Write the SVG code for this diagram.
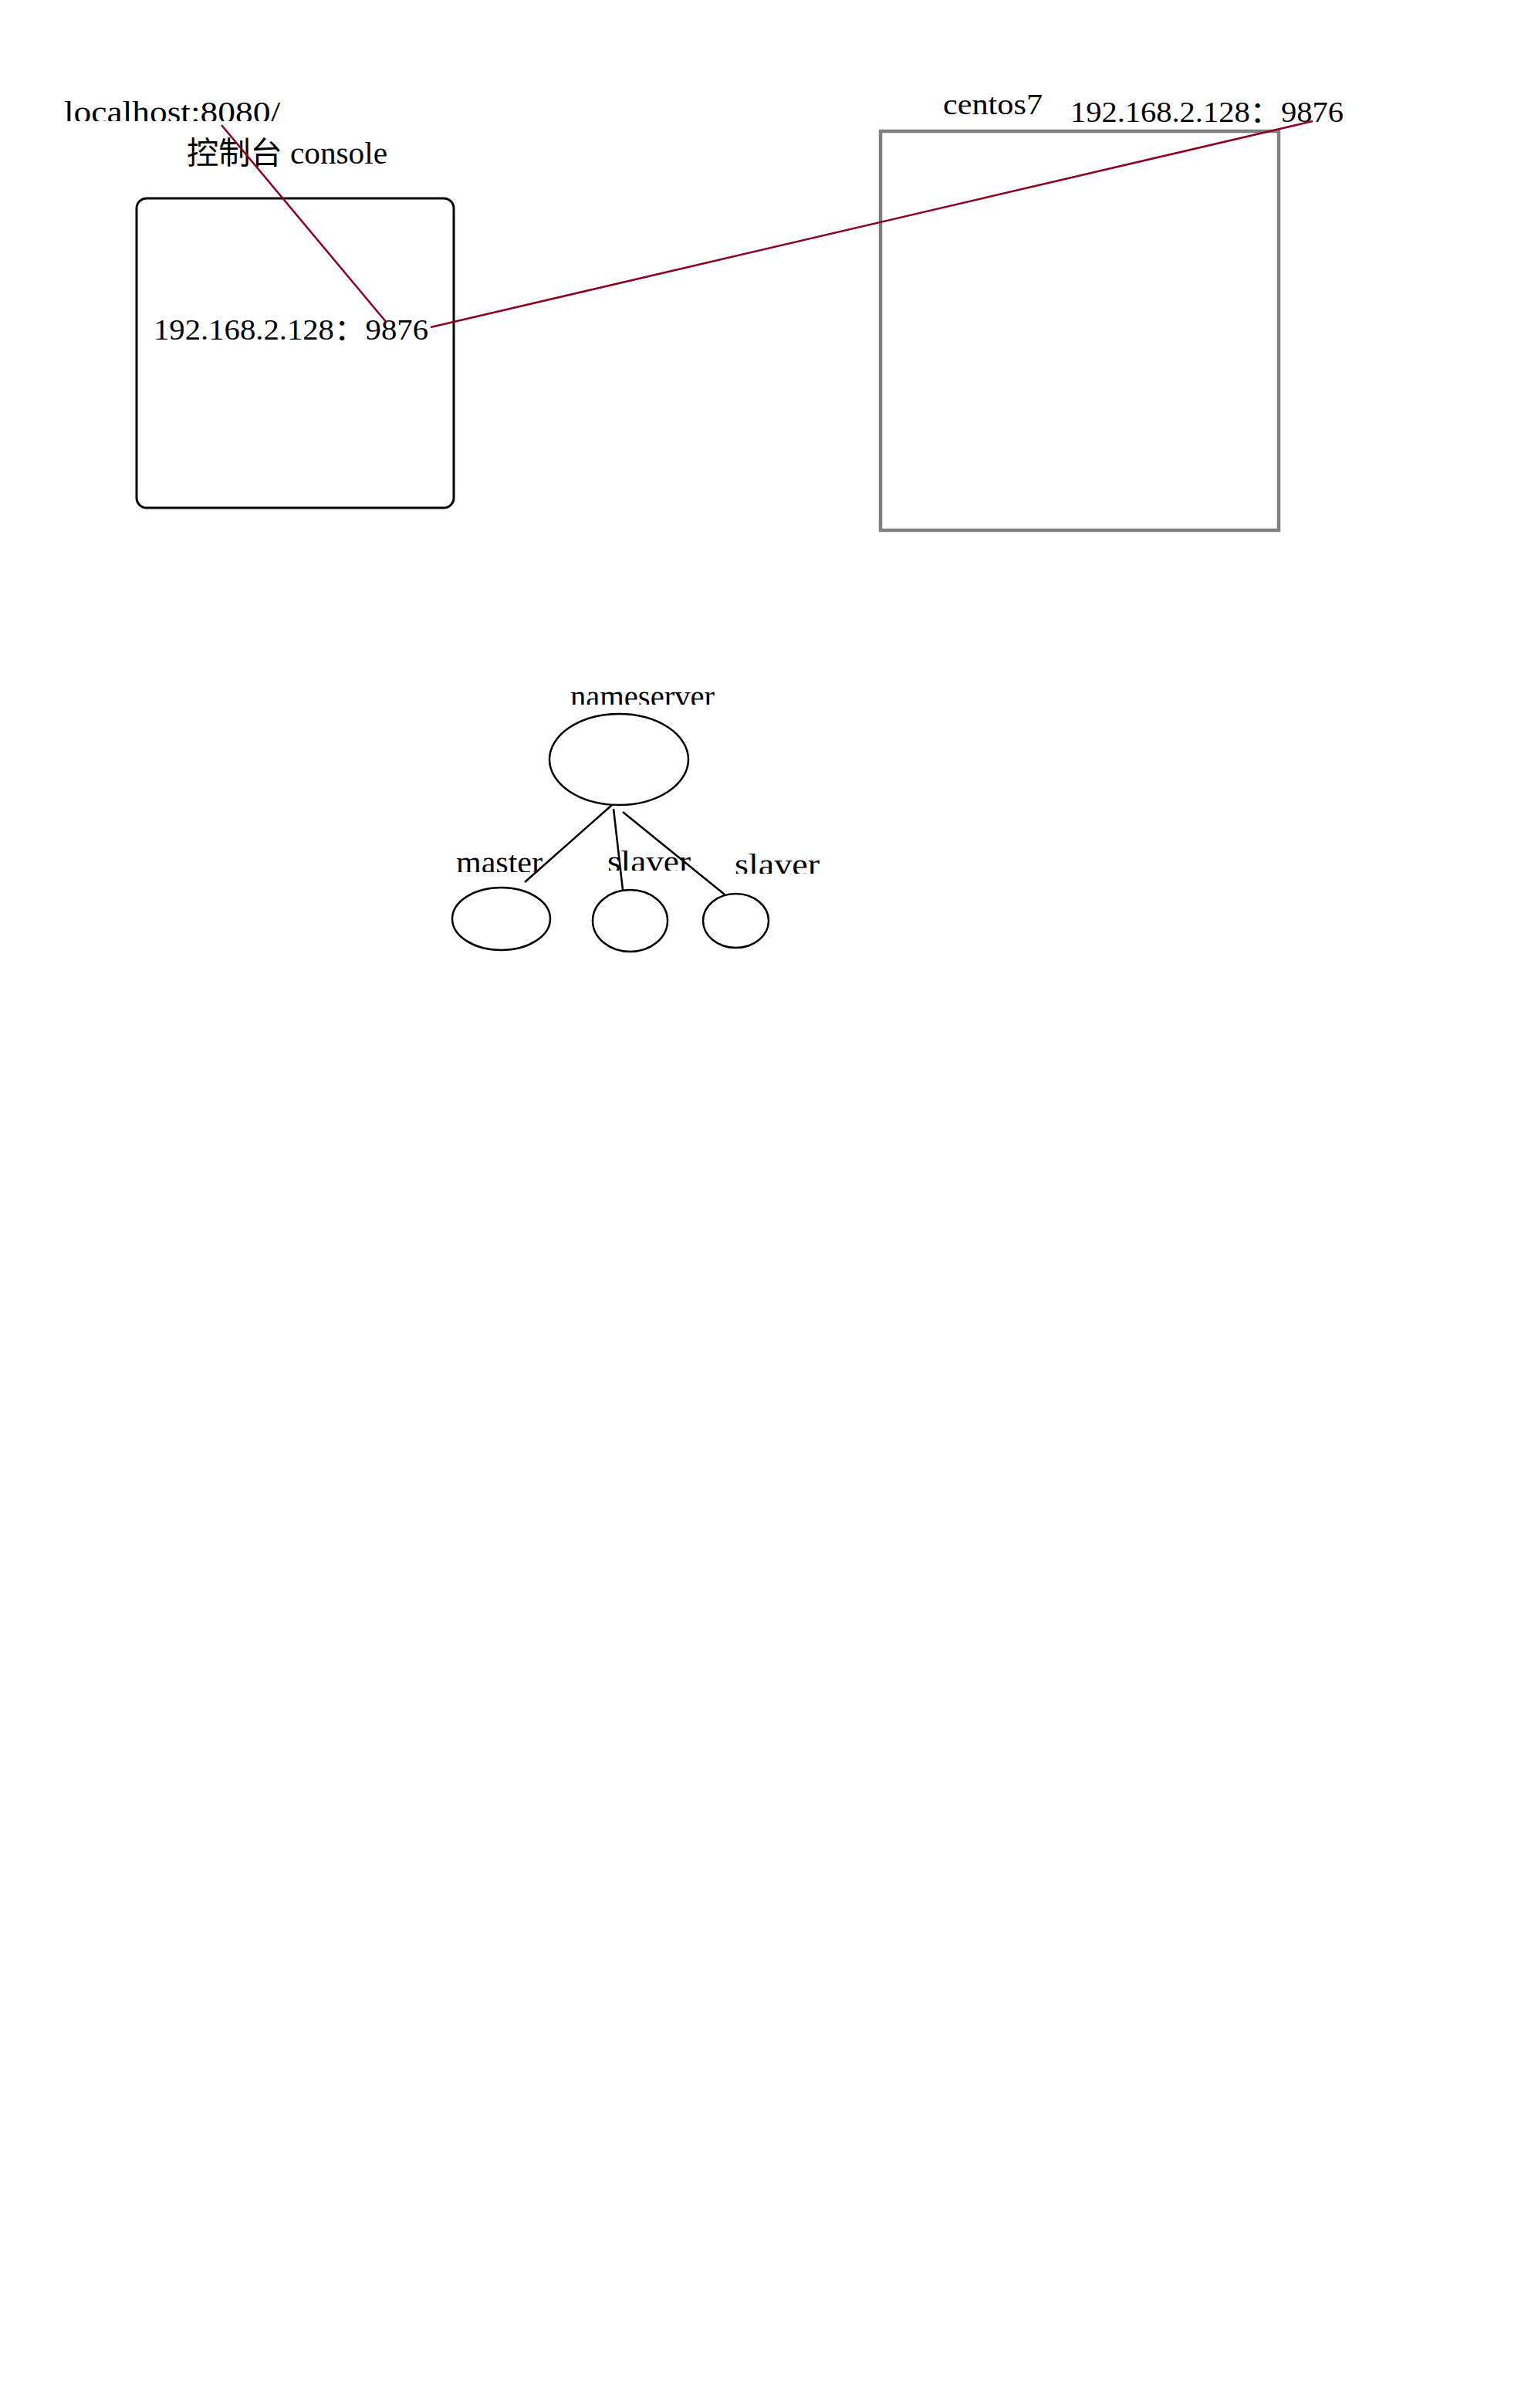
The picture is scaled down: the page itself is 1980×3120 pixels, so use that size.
<svg xmlns="http://www.w3.org/2000/svg" width="1980" height="3120" viewBox="0 0 1980 3120">
<style>
  .t { font-family: "Liberation Serif", "Noto Sans CJK SC", serif; fill: #000; }
  .box { fill: none; stroke: #000; stroke-width: 3; }
  .vm { fill: none; stroke: #808080; stroke-width: 4.5; }
  .ell { fill: none; stroke: #000; stroke-width: 2.5; }
  .red { stroke: #8B0020; stroke-width: 2.5; fill: none; }
  .blk { stroke: #000; stroke-width: 2.5; fill: none; }
</style>
<defs>
  <clipPath id="c-local"><rect x="60" y="100" width="340" height="57"/></clipPath>
  <clipPath id="c-ns"><rect x="700" y="860" width="260" height="53"/></clipPath>
  <clipPath id="c-master"><rect x="570" y="1080" width="150" height="50"/></clipPath>
  <clipPath id="c-slaver1"><rect x="770" y="1080" width="140" height="48"/></clipPath>
  <clipPath id="c-slaver2"><rect x="930" y="1080" width="150" height="52"/></clipPath>
</defs>
<rect width="1980" height="3120" fill="#fff"/>

<g id="console">
  <rect class="box" x="177" y="257" width="411" height="401" rx="13"/>
  <text class="t" x="83" y="159" font-size="40" textLength="280" lengthAdjust="spacingAndGlyphs" clip-path="url(#c-local)">localhost:8080/</text>
  <text class="t" x="242" y="212" font-size="40" textLength="260" lengthAdjust="spacingAndGlyphs">控制台 console</text>
  <text class="t" x="199" y="440" font-size="38" textLength="356" lengthAdjust="spacingAndGlyphs">192.168.2.128：9876</text>
</g>

<g id="centos7">
  <rect class="vm" x="1141" y="170" width="516" height="517"/>
  <text class="t" x="1222" y="148" font-size="38" textLength="129" lengthAdjust="spacingAndGlyphs">centos7</text>
  <text class="t" x="1387" y="158" font-size="38" textLength="354" lengthAdjust="spacingAndGlyphs">192.168.2.128：9876</text>
</g>

<g id="nameserver">
  <ellipse class="ell" cx="802" cy="984" rx="90" ry="59"/>
  <text class="t" x="739" y="916" font-size="40" textLength="187" lengthAdjust="spacingAndGlyphs" clip-path="url(#c-ns)">nameserver</text>
</g>

<g id="master">
  <ellipse class="ell" cx="649.5" cy="1190.5" rx="63.5" ry="40.5"/>
  <text class="t" x="591" y="1131" font-size="40" textLength="112" lengthAdjust="spacingAndGlyphs" clip-path="url(#c-master)">master</text>
</g>

<g id="slaver1">
  <ellipse class="ell" cx="816.5" cy="1193" rx="48.5" ry="40"/>
  <text class="t" x="787" y="1130" font-size="40" textLength="108" lengthAdjust="spacingAndGlyphs" clip-path="url(#c-slaver1)">slaver</text>
</g>

<g id="slaver2">
  <ellipse class="ell" cx="953.5" cy="1193" rx="42.5" ry="35"/>
  <text class="t" x="952" y="1134" font-size="40" textLength="110" lengthAdjust="spacingAndGlyphs" clip-path="url(#c-slaver2)">slaver</text>
</g>

<g id="connectors">
  <line class="red" x1="287" y1="162" x2="501" y2="418"/>
  <line class="red" x1="558" y1="424" x2="1701" y2="157"/>
  <line class="blk" x1="793" y1="1043" x2="680" y2="1143"/>
  <line class="blk" x1="795" y1="1048" x2="807" y2="1153"/>
  <line class="blk" x1="807" y1="1052" x2="939" y2="1159"/>
</g>
</svg>
